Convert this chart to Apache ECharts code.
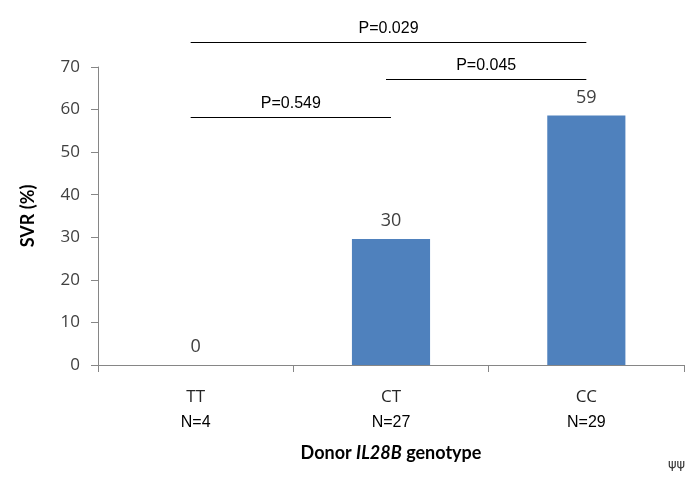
<!DOCTYPE html>
<html>
<head>
<meta charset="utf-8">
<script src="https://cdn.jsdelivr.net/npm/echarts@6/dist/echarts.min.js"></script>
<style>html,body{margin:0;padding:0;background:#fff}#c{width:700px;height:484px}</style>
</head>
<body>
<div id="c"></div>
<script>
var categories = ['TT', 'CT', 'CC'];
var sampleSizes = ['N=4', 'N=27', 'N=29'];
var svrValues = [0, 29.6, 58.6];
var yTicks = [0, 10, 20, 30, 40, 50, 60, 70];
// comparisons: from category, to category, bracket height (in % units), label
var compFrom = [0, 1, 0];
var compTo = [1, 2, 2];
var compLevel = [58.3, 67.2, 75.9];
var compLabel = ['P=0.549', 'P=0.045', 'P=0.029'];

var chart = echarts.init(document.getElementById('c'), null, {renderer: 'canvas'});
var bracketData = compFrom.map(function (f, i) { return [f, compTo[i], compLevel[i]]; });

chart.setOption({
  animation: false,
  backgroundColor: '#ffffff',
  grid: {left: 98, right: 16, top: 67, bottom: 119, containLabel: false},
  xAxis: {
    type: 'category',
    data: categories,
    boundaryGap: true,
    axisLine: {show: true, lineStyle: {color: '#868686', width: 1}},
    axisTick: {show: true, length: 7, alignWithLabel: false, lineStyle: {color: '#868686'}},
    axisLabel: {
      margin: 19,
      formatter: function (v, i) { return '{a|' + v + '}\n{b|' + sampleSizes[i] + '}'; },
      rich: {
        a: {fontFamily: 'Open Sans', fontSize: 17, color: '#262626', lineHeight: 26},
        b: {fontFamily: 'Liberation Sans', fontSize: 16, color: '#000000', lineHeight: 26}
      }
    },
    name: '{n|Donor }{i|IL28B}{n| genotype}',
    nameLocation: 'middle',
    nameGap: 79,
    nameTextStyle: {
      rich: {
        n: {fontFamily: 'Lato', fontWeight: 'bold', fontSize: 18, color: '#000000'},
        i: {fontFamily: 'Lato', fontWeight: 'bold', fontStyle: 'italic', fontSize: 18, color: '#000000'}
      }
    }
  },
  yAxis: {
    type: 'value',
    min: 0,
    max: 70,
    interval: 10,
    splitLine: {show: false},
    axisLine: {show: true, lineStyle: {color: '#868686', width: 1}},
    axisTick: {show: true, length: 7, lineStyle: {color: '#868686'}},
    axisLabel: {
      margin: 18,
      fontFamily: 'Open Sans',
      fontSize: 17,
      color: '#404040',
      formatter: function (v) { return yTicks.indexOf(v) >= 0 ? String(v) : ''; }
    },
    name: 'SVR (%)',
    nameLocation: 'middle',
    nameGap: 61,
    nameTextStyle: {fontFamily: 'Lato', fontWeight: 'bold', fontSize: 18, color: '#000000'}
  },
  series: [
    {
      type: 'bar',
      data: svrValues,
      barWidth: '40%',
      itemStyle: {color: '#4F81BD'},
      label: {
        show: true,
        position: 'top',
        distance: 9,
        fontFamily: 'Open Sans',
        fontSize: 18,
        color: '#404040',
        formatter: function (p) { return String(Math.round(p.value)); }
      }
    },
    {
      type: 'custom',
      clip: false,
      silent: true,
      encode: {x: [0, 1], y: 2},
      data: bracketData,
      renderItem: function (params, api) {
        var i = params.dataIndex;
        var p1 = api.coord([compFrom[i], compLevel[i]]);
        var p2 = api.coord([compTo[i], compLevel[i]]);
        var x1 = p1[0] - 5, x2 = p2[0];
        var y = Math.round(p1[1]) + 0.5;
        return {
          type: 'group',
          children: [
            {type: 'line', shape: {x1: x1, y1: y, x2: x2, y2: y}, style: {stroke: '#000000', lineWidth: 1}},
            {type: 'text', style: {
              x: (x1 + x2) / 2, y: y - 14, text: compLabel[i],
              fontFamily: 'Liberation Sans', fontSize: 16, fill: '#000000',
              align: 'center', verticalAlign: 'middle'
            }}
          ]
        };
      }
    }
  ],
  graphic: [
    {type: 'text', left: 668, top: 458, style: {text: 'ψψ', fontFamily: 'DejaVu Sans', fontSize: 13, fill: '#333333'}}
  ]
});
</script>
</body>
</html>
